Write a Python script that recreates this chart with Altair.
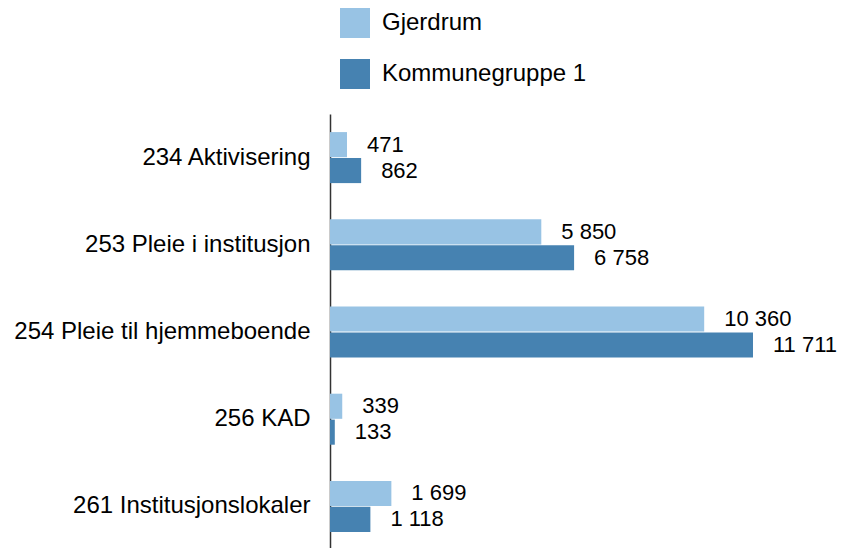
import altair as alt
import pandas as pd

categories = ["234 Aktivisering", "253 Pleie i institusjon", "254 Pleie til hjemmeboende", "256 KAD", "261 Institusjonslokaler"]
series = ["Gjerdrum", "Kommunegruppe 1"]
gjerdrum = [471, 5850, 10360, 339, 1699]
kommunegruppe = [862, 6758, 11711, 133, 1118]
colors = ["#98c3e4", "#4682b1"]

rows = []
for i, c in enumerate(categories):
    for s, vals in zip(series, [gjerdrum, kommunegruppe]):
        v = vals[i]
        rows.append({"kategori": c, "serie": s, "verdi": v,
                     "label": f"{v:,}".replace(",", " ")})
df = pd.DataFrame(rows)

FONT = "Liberation Sans"
FS = 24

y_enc = alt.Y("kategori:N", sort=categories,
              scale=alt.Scale(paddingInner=0.415, paddingOuter=0.2075),
              axis=alt.Axis(title=None, ticks=False, labelFontSize=FS, labelColor="#000000",
                            labelFont=FONT, labelPadding=20,
                            domainColor="#333333", domainWidth=1.5, labelLimit=400))
x_enc = alt.X("verdi:Q", scale=alt.Scale(domain=[0, 13843], nice=False), axis=None)
yoff = alt.YOffset("serie:N", sort=series, scale=alt.Scale(paddingInner=0.03))

bars = alt.Chart(df).mark_bar().encode(
    x=x_enc, y=y_enc, yOffset=yoff,
    color=alt.Color("serie:N", sort=series,
                    scale=alt.Scale(domain=series, range=colors),
                    legend=alt.Legend(title=None, orient="none", legendX=10, legendY=-106,
                                      symbolType="square", symbolSize=900,
                                      symbolStrokeWidth=0, symbolOpacity=1,
                                      labelFontSize=FS, labelFont=FONT,
                                      labelColor="#000000", labelOffset=12, labelLimit=400,
                                      rowPadding=21, direction="vertical")),
)

text = alt.Chart(df).mark_text(align="left", baseline="middle", dx=20, fontSize=22,
                               font=FONT, color="#000000").encode(
    x=x_enc, y=y_enc, yOffset=yoff, text="label:N"
)

chart = (bars + text).properties(
    width=500, height=436,
    autosize=alt.AutoSizeParams(type="none"),
    padding={"left": 322, "top": 106, "right": 8, "bottom": 0},
    background="#ffffff",
).configure_view(stroke=None)

chart.save("out.html", embed_options={"renderer": "svg", "actions": False})
